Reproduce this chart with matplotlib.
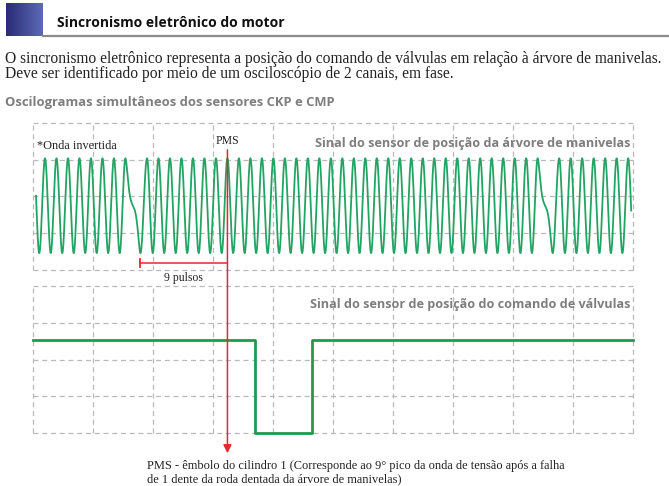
import numpy as np
import matplotlib.pyplot as plt
from matplotlib.colors import LinearSegmentedColormap
from matplotlib.lines import Line2D

W, H = 669, 486

# CKP (crank) signal, in scope divisions
tooth_period = 0.1915
run_start = [0.20, 1.90, 8.77]      # first peak of each run of teeth
run_teeth = [8, 35, 7]              # teeth in each run (missing tooth between runs)
gap_fall = 0.25                     # length of the slow "inverted" fall at the gap
ckp_start, ckp_end = 0.05, 9.97
ckp_mid, ckp_amp = 1.75, 1.29

# CMP (cam) signal
cmp_edges = [3.70, 4.65]
cmp_high, cmp_low = 2.53, 0.0

# PMS = 8th peak of the run after the first gap
pms_tooth = 7

GREEN = "#22a463"
GREEN_DARK = "#1f9a4e"
RED = "#e8262d"
GRID = "#b9b9b9"
GRAY_TXT = "#7e7e7e"
SERIF = "Liberation Serif"
SANS = "Open Sans"


def fig_box(left, top, right, bottom):
    return [left / W, 1 - bottom / H, (right - left) / W, (bottom - top) / H]


def ftext(x, y, s, **kw):
    fig.text(x / W, 1 - y / H, s, **kw)


def ckp_wave(x):
    P = tooth_period
    y = np.zeros_like(x)
    n_runs = len(run_start)
    for i, (s, n) in enumerate(zip(run_start, run_teeth)):
        lo = -np.inf if i == 0 else s
        hi = np.inf if i == n_runs - 1 else s + (n - 1) * P
        m = (x >= lo) & (x <= hi)
        y[m] = np.cos(2 * np.pi * (x[m] - s) / P)
    for i in range(n_runs - 1):
        a = run_start[i] + (run_teeth[i] - 1) * P
        b = run_start[i + 1]
        t = a + gap_fall
        m = (x > a) & (x <= t)
        u = 2 * (x[m] - a) / gap_fall - 1
        g = 0.5 + 0.5 * (0.2 * u + 0.8 * u ** 3)
        y[m] = np.cos(np.pi * g)
        m = (x > t) & (x < b)
        y[m] = -np.cos(np.pi * (x[m] - t) / (b - t))
    return ckp_mid + ckp_amp * y


def scope_grid(ax):
    ax.set_xlim(0, 10)
    ax.set_ylim(0, 4)
    ax.axis("off")
    for gx in range(11):
        ax.axvline(gx, color=GRID, lw=0.9, ls=(0, (4, 3)), clip_on=False, zorder=1)
    for gy in range(5):
        ax.axhline(gy, color=GRID, lw=0.9, ls=(0, (4, 3)), clip_on=False, zorder=1)


fig = plt.figure(figsize=(W / 100, H / 100), dpi=100, facecolor="white")

# header
sq = fig.add_axes(fig_box(6, 3, 43, 36))
cmap = LinearSegmentedColormap.from_list("hdr", ["#282c74", "#5d6ab6"])
sq.imshow(np.linspace(0, 1, 64).reshape(1, -1), cmap=cmap, aspect="auto")
sq.axis("off")
fig.add_artist(Line2D([43 / W, 1], [1 - 36 / H] * 2, transform=fig.transFigure,
                      color="#8c8c8c", lw=1.6))
ftext(57, 27, "Sincronismo eletrônico do motor", fontsize=10, fontweight="bold",
      family=SANS, color="#111111", va="baseline")

ftext(5, 63, "O sincronismo eletrônico representa a posição do comando de válvulas "
      "em relação à árvore de manivelas.", fontsize=11.2, family=SERIF, color="#222222",
      va="baseline")
ftext(5, 78, "Deve ser identificado por meio de um osciloscópio de 2 canais, em fase.",
      fontsize=11.2, family=SERIF, color="#222222", va="baseline")
ftext(5, 106, "Oscilogramas simultâneos dos sensores CKP e CMP", fontsize=9.4,
      fontweight="bold", family=SANS, color=GRAY_TXT, va="baseline")

# scope panels
ax_top = fig.add_axes(fig_box(33, 123, 633, 270))
ax_bot = fig.add_axes(fig_box(33, 286, 633, 433))
scope_grid(ax_top)
scope_grid(ax_bot)

x = np.linspace(ckp_start, ckp_end, 8000)
ax_top.plot(x, ckp_wave(x), color=GREEN, lw=1.3, zorder=3, clip_on=False)

cmp_x = [0, cmp_edges[0], cmp_edges[0], cmp_edges[1], cmp_edges[1], 10]
cmp_y = [cmp_high, cmp_high, cmp_low, cmp_low, cmp_high, cmp_high]
ax_bot.plot(cmp_x, cmp_y, color=GREEN_DARK, lw=2, zorder=3, clip_on=False)

# PMS marker
pms_x = run_start[1] + pms_tooth * tooth_period
gap_trough = run_start[0] + (run_teeth[0] - 1) * tooth_period + gap_fall
ax_bot.annotate("", xy=(pms_x, -0.55), xycoords="data",
                xytext=(pms_x, 3.27), textcoords=ax_top.transData,
                arrowprops=dict(arrowstyle="-|>", color=RED, lw=1.1,
                                mutation_scale=12, shrinkA=0, shrinkB=0),
                annotation_clip=False, zorder=5)
ax_top.plot([gap_trough, pms_x], [0.19, 0.19], color=RED, lw=1.1, zorder=4, clip_on=False)
ax_top.plot([gap_trough, gap_trough], [0.09, 0.29], color=RED, lw=1.3, zorder=4, clip_on=False)

ax_top.text(pms_x, 3.35, "PMS", fontsize=8.5, family=SERIF, ha="center", va="bottom",
            color="#222222")
ax_top.text((gap_trough + pms_x) / 2, -0.3, "9 pulsos", fontsize=8.5, family=SERIF,
            ha="center", va="baseline", color="#222222")
ax_top.text(0.07, 3.3, "*Onda invertida", fontsize=8.8, family=SERIF, va="baseline",
            color="#222222")
ax_top.text(9.95, 3.35, "Sinal do sensor de posição da árvore de manivelas", fontsize=9.1,
            fontweight="bold", family=SANS, color=GRAY_TXT, ha="right", va="baseline")
ax_bot.text(9.95, 3.4, "Sinal do sensor de posição do comando de válvulas", fontsize=9.1,
            fontweight="bold", family=SANS, color=GRAY_TXT, ha="right", va="baseline")

ftext(147, 469, "PMS - êmbolo do cilindro 1 (Corresponde ao 9° pico da onda de tensão "
      "após a falha", fontsize=8.9, family=SERIF, color="#222222", va="baseline")
ftext(147, 482, "de 1 dente da roda dentada da árvore de manivelas)", fontsize=8.9,
      family=SERIF, color="#222222", va="baseline")

fig.savefig("out.png", dpi=100, facecolor="white")
